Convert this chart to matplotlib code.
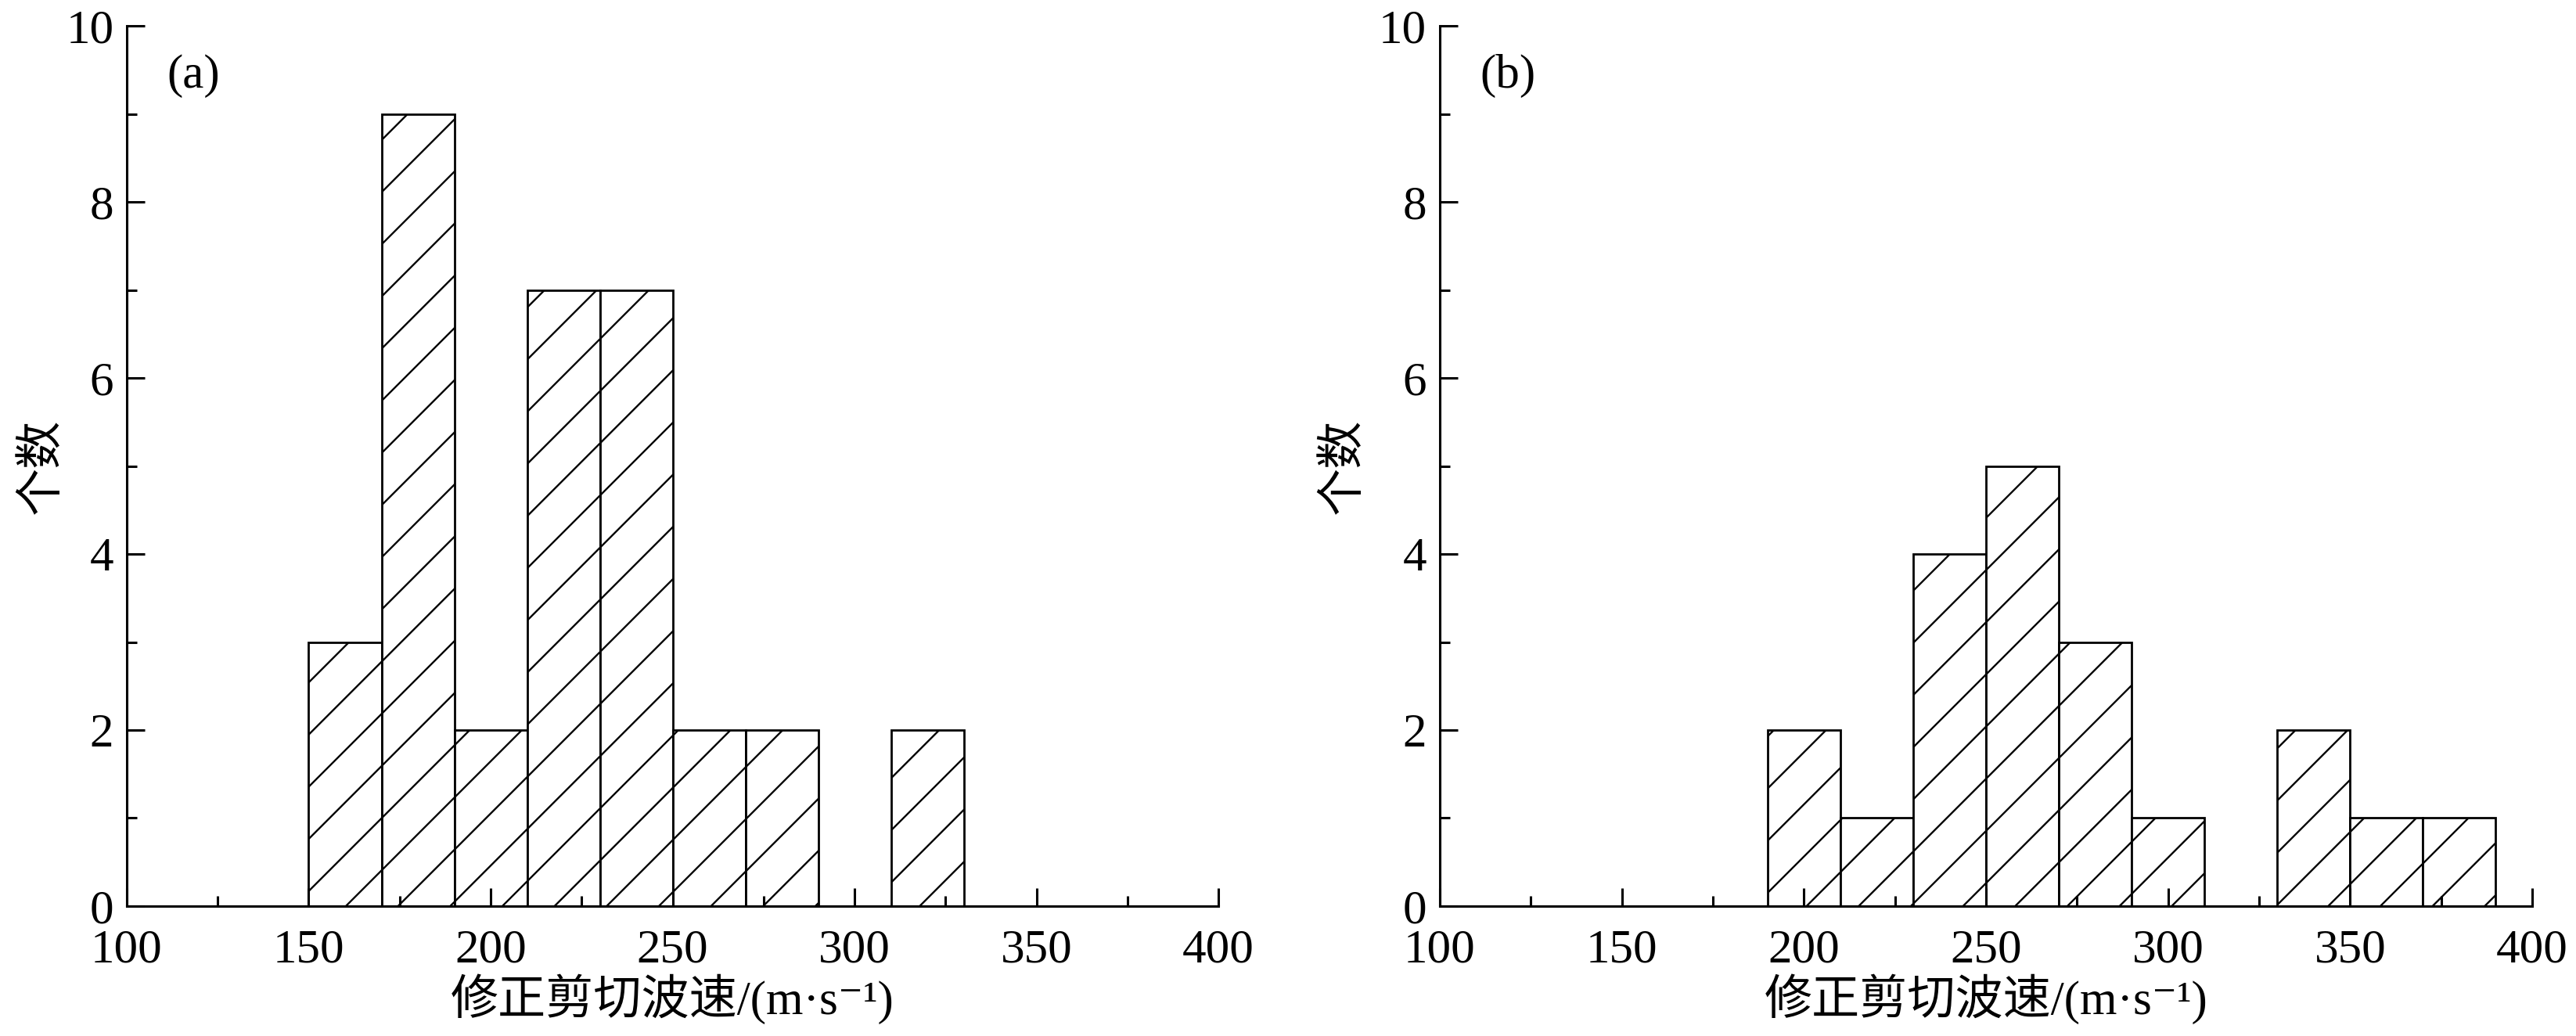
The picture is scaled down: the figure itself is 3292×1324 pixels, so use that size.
import numpy as np
import matplotlib.pyplot as plt
from matplotlib.ticker import MultipleLocator

plt.rcParams['font.family'] = ['Liberation Serif', 'Noto Sans CJK SC', 'DejaVu Serif']
plt.rcParams['hatch.linewidth'] = 0.85

# histogram data: left edge of each 20 m/s bin and counts
bins_a = [150, 170, 190, 210, 230, 250, 270, 310]
counts_a = [3, 9, 2, 7, 7, 2, 2, 2]

bins_b = [190, 210, 230, 250, 270, 290, 330, 350, 370]
counts_b = [2, 1, 4, 5, 3, 1, 2, 1, 1]

bin_width = 20
xlabel = '修正剪切波速/(m·s⁻¹)'
ylabel = '个数'

fig = plt.figure(figsize=(16.46, 6.62), dpi=200)
ax1 = fig.add_axes([0.0492, 0.1254, 0.4238, 0.8496])
ax2 = fig.add_axes([0.5589, 0.1254, 0.4241, 0.8496])

fs = 22

panels = [(ax1, bins_a, counts_a, '(a)', -0.057),
          (ax2, bins_b, counts_b, '(b)', -0.067)]

for ax, bins, counts, tag, ylab_x in panels:
    ax.bar(bins, counts, width=bin_width, align='edge', color='white',
           edgecolor='black', linewidth=1.0, hatch='/')
    ax.set_xlim(100, 400)
    ax.set_ylim(0, 10)
    ax.xaxis.set_major_locator(MultipleLocator(50))
    ax.xaxis.set_minor_locator(MultipleLocator(25))
    ax.yaxis.set_major_locator(MultipleLocator(2))
    ax.yaxis.set_minor_locator(MultipleLocator(1))
    ax.tick_params(which='both', direction='in', labelsize=fs, width=1.1)
    ax.tick_params(which='major', length=8.3)
    ax.tick_params(which='minor', length=4.6)
    ax.tick_params(axis='x', which='major', pad=10.5)
    ax.tick_params(axis='y', which='major', pad=6)
    ax.spines['top'].set_visible(False)
    ax.spines['right'].set_visible(False)
    for s in ['left', 'bottom']:
        ax.spines[s].set_linewidth(1.1)
    ax.set_xlabel(xlabel, fontsize=fs, labelpad=0.5)
    ax.set_ylabel(ylabel, fontsize=fs)
    ax.yaxis.set_label_coords(ylab_x, 0.5)
    ax.text(0.037, 0.943, tag, transform=ax.transAxes, fontsize=fs,
            ha='left', va='center')

plt.savefig('out.png', dpi=200)
